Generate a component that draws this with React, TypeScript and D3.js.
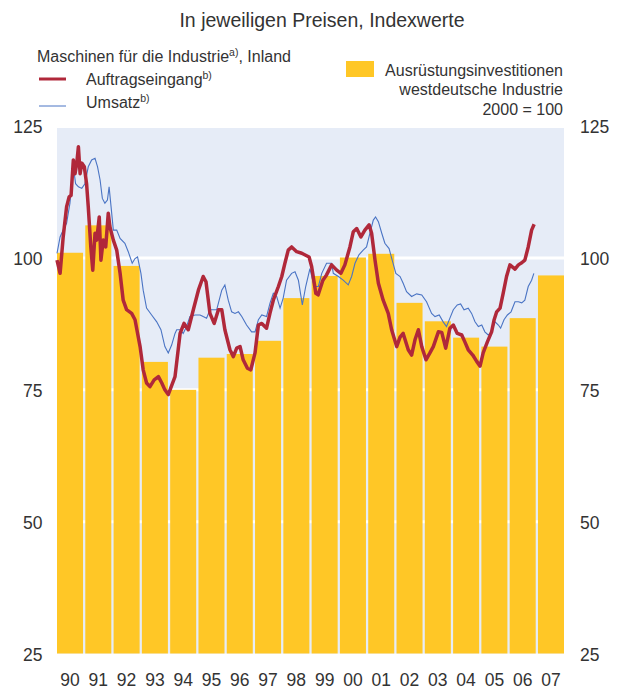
import React from "react";
import * as d3 from "d3";

const years = ["90","91","92","93","94","95","96","97","98","99","00","01","02","03","04","05","06","07"];
const investment = [101.0,106.2,98.5,80.3,75.0,81.1,81.8,84.3,92.4,96.6,100.1,100.8,91.5,88.0,84.9,83.2,88.6,96.7];

const orderTime = [1990.00,1990.11,1990.22,1990.34,1990.43,1990.50,1990.58,1990.64,1990.70,1990.76,1990.82,1990.88,1990.97,1991.05,1991.11,1991.20,1991.27,1991.35,1991.41,1991.50,1991.56,1991.64,1991.73,1991.82,1991.88,1992.00,1992.12,1992.24,1992.35,1992.47,1992.65,1992.77,1992.95,1993.06,1993.18,1993.30,1993.45,1993.60,1993.72,1993.83,1993.95,1994.19,1994.37,1994.51,1994.66,1994.84,1995.02,1995.19,1995.29,1995.43,1995.58,1995.73,1995.85,1995.96,1996.14,1996.26,1996.38,1996.50,1996.61,1996.76,1996.88,1997.03,1997.15,1997.27,1997.44,1997.56,1997.68,1997.86,1997.98,1998.09,1998.21,1998.33,1998.51,1998.69,1998.95,1999.04,1999.19,1999.27,1999.44,1999.57,1999.75,1999.93,2000.08,2000.22,2000.40,2000.52,2000.64,2000.79,2000.93,2001.08,2001.17,2001.29,2001.41,2001.58,2001.76,2001.88,2002.06,2002.18,2002.29,2002.47,2002.59,2002.71,2002.83,2002.95,2003.10,2003.24,2003.36,2003.54,2003.66,2003.80,2003.95,2004.07,2004.21,2004.37,2004.48,2004.60,2004.76,2004.90,2005.02,2005.13,2005.28,2005.43,2005.52,2005.61,2005.73,2005.84,2005.96,2006.08,2006.26,2006.38,2006.50,2006.61,2006.73,2006.85,2006.94];
const orderValue = [99.6,97.1,104,109.7,111.6,111.9,118.6,116,117.9,121.1,116,118,117.3,114.1,109.7,102.1,97.7,104.7,103.4,107.8,99.6,103.4,102.1,108.5,105.9,103.4,101.5,97.1,92,90.2,89.5,88.3,83.2,78.8,76.3,75.6,76.9,77.5,76.3,75,74.1,77.5,85.7,87.6,86.4,90.2,93.9,96.5,95.5,89.5,87.6,90.2,90.2,86.4,82.6,81.3,82.9,83.2,80.7,79.1,78.8,82,87.3,87.6,86.7,89.5,92,94.6,96.5,99,101.5,102.1,101.2,100.9,100.2,98.4,93.3,93,95.8,96.8,98.7,97.7,97.1,98.7,102.1,105,105.6,104,105.3,106.3,104.7,99.6,95.2,92,89.5,86.4,83.2,85,85.7,82.6,81.6,84.5,86.4,83.2,80.7,82,83.2,86,85.9,82.9,86.7,87.3,85.7,85.4,84.1,82.6,81.6,80.4,79.5,82,84.1,86,88.3,89.8,90.5,93.3,96.5,98.7,97.9,98.7,99.1,99.6,102.1,105.3,106.4];

const salesTime = [1990.00,1990.11,1990.22,1990.34,1990.46,1990.58,1990.66,1990.76,1990.88,1990.99,1991.11,1991.23,1991.35,1991.44,1991.53,1991.61,1991.70,1991.79,1991.85,1991.92,1992.00,1992.12,1992.24,1992.41,1992.53,1992.67,1992.77,1992.86,1992.98,1993.06,1993.18,1993.36,1993.54,1993.69,1993.83,1993.95,1994.07,1994.19,1994.25,1994.37,1994.48,1994.60,1994.72,1994.90,1995.08,1995.19,1995.31,1995.43,1995.67,1995.85,1995.96,1996.08,1996.20,1996.32,1996.44,1996.56,1996.73,1996.91,1997.03,1997.15,1997.27,1997.44,1997.56,1997.68,1997.80,1997.92,1998.03,1998.15,1998.33,1998.45,1998.57,1998.71,1998.83,1998.98,1999.13,1999.28,1999.40,1999.57,1999.75,1999.81,1999.99,2000.16,2000.34,2000.46,2000.58,2000.72,2000.87,2000.99,2001.11,2001.23,2001.31,2001.41,2001.53,2001.64,2001.79,2001.90,2002.03,2002.18,2002.29,2002.41,2002.59,2002.77,2002.95,2003.12,2003.30,2003.42,2003.57,2003.71,2003.83,2003.95,2004.07,2004.21,2004.33,2004.45,2004.60,2004.72,2004.84,2004.96,2005.08,2005.19,2005.31,2005.43,2005.55,2005.67,2005.75,2005.87,2005.99,2006.12,2006.26,2006.38,2006.50,2006.61,2006.73,2006.85,2006.93];
const salesValue = [100.9,104,105.3,106.6,110.4,117.3,114.1,113.5,113.2,114.1,117.3,118.6,118.9,117.3,114.8,111.3,110.4,111,113.5,109.7,105.3,105.3,103.7,102.8,101.2,99,99.9,100.2,97.1,93.9,90.5,89.2,87.9,86.4,83.2,82,83.5,85.7,86.4,86.4,85.7,87,88.9,89.2,89.2,88.9,88.6,90.2,90.2,93.9,94.9,92,89.8,89.5,89.8,88.9,87.3,86,86,88.3,89.2,88.9,91.4,93.3,92.7,90.5,92.4,95.8,97.1,97.4,95.8,91.1,94.6,98,94.6,94.6,97.1,99,99,97.1,96.5,95.8,94.9,96.5,99,100.6,101.5,102.1,104.7,107.2,107.8,106.9,104.7,102.8,101.8,99.6,97.1,96.5,95.2,93.6,92.7,93.2,93,91.7,89.5,88.9,89.2,87.9,87,88.6,90.2,91.1,91.3,90.2,90.5,89.5,87.9,87,87.3,86,85.4,86,87.9,87.3,86.7,88.3,89.2,89.8,91.7,91.7,91.5,92,94.6,95.8,97.1];

const yTicks = [25, 50, 75, 100, 125];

const W = 617, H = 690;
const L = 57, R = 564, T = 126.2, B = 653.5;
const FONT = "'Liberation Sans', Arial, sans-serif";
const TXT = "#333333";

export default function App() {
  const y = d3.scaleLinear().domain([25, 125]).range([B, T]);
  const xt = d3.scaleLinear().domain([1990, 2008]).range([L, R]);
  const xb = d3.scaleBand().domain(years).range([L, R]).paddingInner(0.08).paddingOuter(0);

  const order = orderTime.map((t, i) => [t, orderValue[i]] as [number, number]);
  const sales = salesTime.map((t, i) => [t, salesValue[i]] as [number, number]);
  const line = d3.line<[number, number]>().x(d => xt(d[0])).y(d => y(d[1]));

  return (
    <svg width={W} height={H} style={{ position: "absolute", left: 0, top: 0 }} fontFamily={FONT}>
      <rect x={0} y={0} width={W} height={H} fill="#ffffff" />
      <text x={322} y={26.5} textAnchor="middle" fontSize={19.5} fill={TXT}>In jeweiligen Preisen, Indexwerte</text>

      <text x={37} y={62} fontSize={16} fill={TXT}>Maschinen für die Industrie<tspan fontSize={10.5} dy={-6.5}>a)</tspan><tspan dy={6.5}>, Inland</tspan></text>
      <line x1={39} x2={66} y1={79} y2={79} stroke="#B0283A" strokeWidth={3} />
      <text x={86} y={85} fontSize={16} fill={TXT}>Auftragseingang<tspan fontSize={10.5} dy={-6.5}>b)</tspan></text>
      <line x1={39} x2={66} y1={106} y2={106} stroke="#4A74C4" strokeWidth={1} />
      <text x={86} y={108} fontSize={16} fill={TXT}>Umsatz<tspan fontSize={10.5} dy={-6.5}>b)</tspan></text>

      <rect x={346} y={61} width={28} height={16} fill="#FFC726" />
      <text x={563} y={75.5} textAnchor="end" fontSize={16} fill={TXT}>Ausrüstungsinvestitionen</text>
      <text x={563} y={95} textAnchor="end" fontSize={16} fill={TXT}>westdeutsche Industrie</text>
      <text x={563} y={115} textAnchor="end" fontSize={16} fill={TXT}>2000 = 100</text>

      <rect x={L} y={128} width={R - L} height={B - 128} fill="#E6ECF7" />
      {yTicks.filter(v => v > 25 && v < 125).map(v => (
        <line key={v} x1={L} x2={R} y1={y(v)} y2={y(v)} stroke="#ffffff" strokeWidth={3} />
      ))}

      {years.map((yr, i) => (
        <rect key={yr} x={xb(yr)} y={y(investment[i])} width={xb.bandwidth()} height={B - y(investment[i])} fill="#FFC726" />
      ))}

      <path d={line(sales) || ""} fill="none" stroke="#4A74C4" strokeWidth={1.1} />
      <path d={line(order) || ""} fill="none" stroke="#B0283A" strokeWidth={3.5} strokeLinejoin="round" />

      {yTicks.map(v => (
        <g key={v}>
          <text x={42.5} y={y(v) + 7} textAnchor="end" fontSize={17.5} fill={TXT}>{v}</text>
          <text x={580} y={y(v) + 7} textAnchor="start" fontSize={17.5} fill={TXT}>{v}</text>
        </g>
      ))}
      {years.map(yr => (
        <text key={yr} x={(xb(yr) as number) + xb.bandwidth() / 2} y={686} textAnchor="middle" fontSize={17.5} fill={TXT}>{yr}</text>
      ))}
    </svg>
  );
}
